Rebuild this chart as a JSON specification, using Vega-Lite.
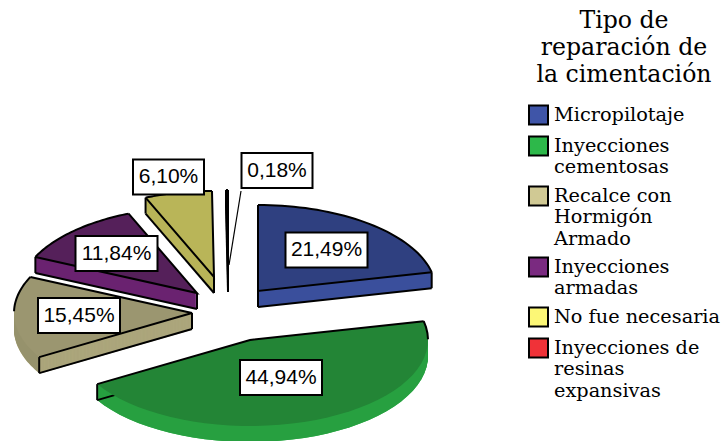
{"$schema":"https://vega.github.io/schema/vega-lite/v6.json","width":723,"height":441,"padding":0,"autosize":"none","background":"white","config":{"view":{"stroke":null}},
"data":{"values":[{"name":"Micropilotaje","pct":21.49},{"name":"Inyecciones cementosas","pct":44.94},{"name":"Recalce con Hormigón Armado","pct":15.45},{"name":"Inyecciones armadas","pct":11.84},{"name":"No fue necesaria","pct":6.10},{"name":"Inyecciones de resinas expansivas","pct":0.18}]},
"transform":[
{"window":[{"op":"sum","field":"pct","as":"cum"}]},
{"calculate":"{'Micropilotaje':[258,291,326.5,250],'Inyecciones cementosas':[250,340,281,377.5],'Recalce con Hormigón Armado':[192,313,79,315.5],'Inyecciones armadas':[197,293,116.5,253.5],'No fue necesaria':[214,277,168.5,177],'Inyecciones de resinas expansivas':[228,276,277,170.5]}[datum.name]","as":"anchor"},
{"calculate":"[-1,0,1,2,3,4,5,6,7,8,9,10,11,12,13,14,15,16,17,18,19,20,21,22,23,24,25,26,27,28,29,30,31,32,33,34,35,36,37,38,39,40,41]","as":"idx"},
{"flatten":["idx"]},
{"calculate":"2*PI*(datum.cum-datum.pct+datum.pct*clamp(datum.idx,0,40)/40)/100","as":"t"},
{"calculate":"datum.idx==-1||datum.idx==41?datum.anchor[0]:datum.anchor[0]+178*sin(datum.t)","as":"xx"},
{"calculate":"datum.idx==-1||datum.idx==41?datum.anchor[1]:datum.anchor[1]-86*cos(datum.t)","as":"yy"},
{"calculate":"datum.yy+16","as":"yb"},
{"calculate":"datum.idx==0?0:datum.idx==-1?1:2","as":"cutOrder"},
{"calculate":"datum.name=='Micropilotaje'||datum.name=='Inyecciones cementosas'?40:0","as":"frontIdx"}
],
"encoding":{"x":{"field":"xx","type":"quantitative","scale":{"domain":[0,723]},"axis":null},"y":{"field":"yy","type":"quantitative","scale":{"domain":[441,0]},"axis":null}},
"layer":[
{"mark":{"type":"line","strokeWidth":0},"encoding":{"y":{"field":"yb","type":"quantitative"},"order":{"field":"idx","type":"quantitative"},
"fill":{"field":"name","type":"nominal","scale":{"domain":["Micropilotaje","Inyecciones cementosas","Recalce con Hormigón Armado","Inyecciones armadas","No fue necesaria","Inyecciones de resinas expansivas"],"range":["#3f55a8","#2db84a","#d0c994","#7a2a80","#fcf776","#f03238"]},
"legend":{"orient":"none","legendX":528,"legendY":9,"title":["Tipo de","reparación de","la cimentación"],"titleFont":"DejaVu Serif","titleFontSize":23.6,"titleFontWeight":"normal","titleColor":"black","titleLineHeight":27,"titleAlign":"center","titleAnchor":"middle","titlePadding":18,"symbolType":"square","symbolSize":361,"symbolStrokeColor":"black","symbolStrokeWidth":2,"symbolOpacity":1,"labelFont":"DejaVu Serif","labelFontSize":19.3,"labelColor":"black","labelOffset":5,"rowPadding":4,"labelLimit":220,"labelExpr":"{'Micropilotaje':'Micropilotaje','Inyecciones cementosas':['Inyecciones','cementosas'],'Recalce con Hormigón Armado':['Recalce con','Hormigón','Armado'],'Inyecciones armadas':['Inyecciones','armadas'],'No fue necesaria':'No fue necesaria','Inyecciones de resinas expansivas':['Inyecciones de','resinas','expansivas']}[datum.label]"}}}},
{"transform":[{"calculate":"[1,2,3,4,5,6,7,8,9,10,11,12,13,14,15,16]","as":"depth"},{"flatten":["depth"]},{"calculate":"datum.yy+datum.depth","as":"yd"}],
"mark":{"type":"line","strokeWidth":0},"encoding":{"y":{"field":"yd","type":"quantitative"},"order":{"field":"idx","type":"quantitative"},"detail":{"field":"depth","type":"nominal"},
"fill":{"field":"name","type":"nominal","legend":null,"scale":{"domain":["Micropilotaje","Inyecciones cementosas","Recalce con Hormigón Armado","Inyecciones armadas","No fue necesaria","Inyecciones de resinas expansivas"],"range":["#3a4f9c","#27a040","#96926c","#6a2270","#b8b458","#000000"]}}}},
{"transform":[{"filter":"datum.pct==15.45&&(datum.idx==-1||datum.idx==datum.frontIdx)"},{"calculate":"[1,2,3,4,5,6,7,8,9,10,11,12,13,14,15,16]","as":"depth"},{"flatten":["depth"]},{"calculate":"datum.yy+datum.depth","as":"yd"}],
"mark":{"type":"line","stroke":"#aca67c","strokeWidth":1.5},"encoding":{"y":{"field":"yd","type":"quantitative"},"order":{"field":"cutOrder","type":"quantitative"},"detail":{"field":"depth","type":"nominal"}}},
{"transform":[{"filter":"datum.idx==-1||datum.idx==datum.frontIdx"}],"mark":{"type":"line","stroke":"black","strokeWidth":2},"encoding":{"y":{"field":"yb","type":"quantitative"},"detail":{"field":"name"},"order":{"field":"cutOrder","type":"quantitative"}}},
{"transform":[{"filter":"datum.idx==-1||datum.idx==datum.frontIdx"}],"mark":{"type":"rule","stroke":"black","strokeWidth":2},"encoding":{"y2":{"field":"yb"}}},
{"mark":{"type":"line","strokeWidth":0},"encoding":{"order":{"field":"idx","type":"quantitative"},
"fill":{"field":"name","type":"nominal","legend":null,"scale":{"domain":["Micropilotaje","Inyecciones cementosas","Recalce con Hormigón Armado","Inyecciones armadas","No fue necesaria","Inyecciones de resinas expansivas"],"range":["#2f4080","#238536","#9b9670","#55205a","#b9b558","#000000"]}}}},
{"transform":[{"filter":"datum.idx==-1||datum.idx==0||datum.idx==40"}],"mark":{"type":"line","stroke":"black","strokeWidth":2},"encoding":{"detail":{"field":"name"},"order":{"field":"cutOrder","type":"quantitative"}}},
{"transform":[{"filter":"datum.idx>=0&&datum.idx<=40&&cos(datum.t)>=0"}],"mark":{"type":"line","stroke":"black","strokeWidth":2},"encoding":{"detail":{"field":"name"},"order":{"field":"idx","type":"quantitative"}}},
{"transform":[{"filter":"datum.idx==-1&&datum.pct<1"},{"calculate":"241","as":"lx"},{"calculate":"191","as":"ly"},{"calculate":"229","as":"ex"},{"calculate":"265","as":"ey"}],"mark":{"type":"rule","stroke":"black","strokeWidth":1.2},"encoding":{"x":{"field":"lx","type":"quantitative"},"y":{"field":"ly","type":"quantitative"},"x2":{"field":"ex"},"y2":{"field":"ey"}}},
{"transform":[{"filter":"datum.idx==-1"},{"calculate":"datum.pct<10?35.5:41","as":"hw"},{"calculate":"datum.anchor[2]-datum.hw","as":"bx"},{"calculate":"datum.anchor[2]+datum.hw","as":"bx2"},{"calculate":"datum.anchor[3]-17.5","as":"by"},{"calculate":"datum.anchor[3]+17.5","as":"by2"}],"mark":{"type":"rect","fill":"white","stroke":"black","strokeWidth":2},"encoding":{"x":{"field":"bx","type":"quantitative"},"x2":{"field":"bx2"},"y":{"field":"by","type":"quantitative"},"y2":{"field":"by2"}}},
{"transform":[{"filter":"datum.idx==-1"},{"calculate":"datum.anchor[2]","as":"tx"},{"calculate":"datum.anchor[3]","as":"ty"},{"calculate":"replace(format(datum.pct,'.2f'),'.',',')+'%'","as":"lab"}],"mark":{"type":"text","font":"Liberation Sans","fontSize":21,"color":"black","align":"center","baseline":"middle"},"encoding":{"x":{"field":"tx","type":"quantitative"},"y":{"field":"ty","type":"quantitative"},"text":{"field":"lab"}}}
],
"resolve":{"scale":{"fill":"independent"}}}
